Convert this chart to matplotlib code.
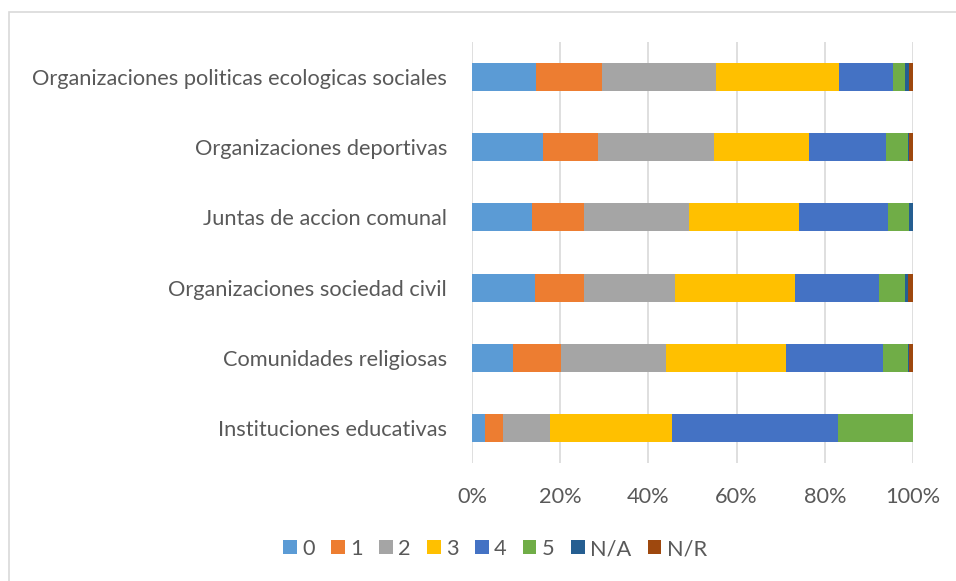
import matplotlib
matplotlib.use("Agg")
import matplotlib.pyplot as plt
from matplotlib.patches import Rectangle
import numpy as np

categories = [
    "Organizaciones politicas ecologicas sociales",
    "Organizaciones deportivas",
    "Juntas de accion comunal",
    "Organizaciones sociedad civil",
    "Comunidades religiosas",
    "Instituciones educativas",
]
series_names = ["0", "1", "2", "3", "4", "5", "N/A", "N/R"]

# percentage shares per category (rows follow `categories`)
s0 = [14.6, 16.2, 13.6, 14.4, 9.3, 2.9]
s1 = [14.9, 12.4, 11.8, 11.0, 10.9, 4.2]
s2 = [25.9, 26.2, 23.8, 20.6, 23.7, 10.6]
s3 = [27.8, 21.6, 24.9, 27.3, 27.2, 27.6]
s4 = [12.3, 17.5, 20.2, 18.9, 22.0, 37.6]
s5 = [2.8, 5.0, 4.9, 6.1, 5.8, 17.1]
s_na = [0.8, 0.2, 0.8, 0.6, 0.2, 0.0]
s_nr = [0.9, 0.9, 0.0, 1.1, 0.9, 0.0]

tick_labels = ["0%", "20%", "40%", "60%", "80%", "100%"]

colors = ["#5B9BD5", "#ED7D31", "#A5A5A5", "#FFC000",
          "#4472C4", "#70AD47", "#255E91", "#9E480E"]

plt.rcParams["font.family"] = ["Lato", "DejaVu Sans"]
text_color = "#595959"
fs = 15.7

fig = plt.figure(figsize=(9.56, 5.81), dpi=100)
ax = fig.add_axes([0.4937, 0.2031, 0.4613, 0.7246])

data = np.array([s0, s1, s2, s3, s4, s5, s_na, s_nr], dtype=float)
totals = data.sum(axis=0)
shares = data / totals * 100

y = np.arange(len(categories))
left = np.zeros(len(categories))
for name, vals, col in zip(series_names, shares, colors):
    ax.barh(y, vals, left=left, height=0.4, color=col, label=name,
            zorder=3, linewidth=0)
    left += vals

ax.set_ylim(len(categories) - 0.5, -0.5)
ax.set_xlim(0, 100)
ax.set_yticks(y)
ax.set_yticklabels(categories, fontsize=fs, color=text_color)
ax.set_xticks(np.linspace(0, 100, len(tick_labels)))
ax.set_xticklabels(tick_labels, fontsize=fs, color=text_color)
ax.tick_params(axis="y", length=0, pad=18)
ax.tick_params(axis="x", length=0, pad=17)
ax.grid(axis="x", color="#D9D9D9", linewidth=1.2, zorder=0)
for sp in ax.spines.values():
    sp.set_visible(False)

fig.legend(loc="center", bbox_to_anchor=(495 / 956, 1 - 549 / 581), ncol=8,
           frameon=False, fontsize=fs, handlelength=0.62, handleheight=0.62,
           handletextpad=0.25, columnspacing=0.75, labelcolor=text_color)

# chart frame
fig.patches.append(Rectangle((9 / 956, -0.05), 1.2, 1 - 12 / 581 + 0.05,
                             transform=fig.transFigure, fill=False,
                             edgecolor="#D9D9D9", linewidth=1.2))

fig.savefig("out.png", dpi=100)
